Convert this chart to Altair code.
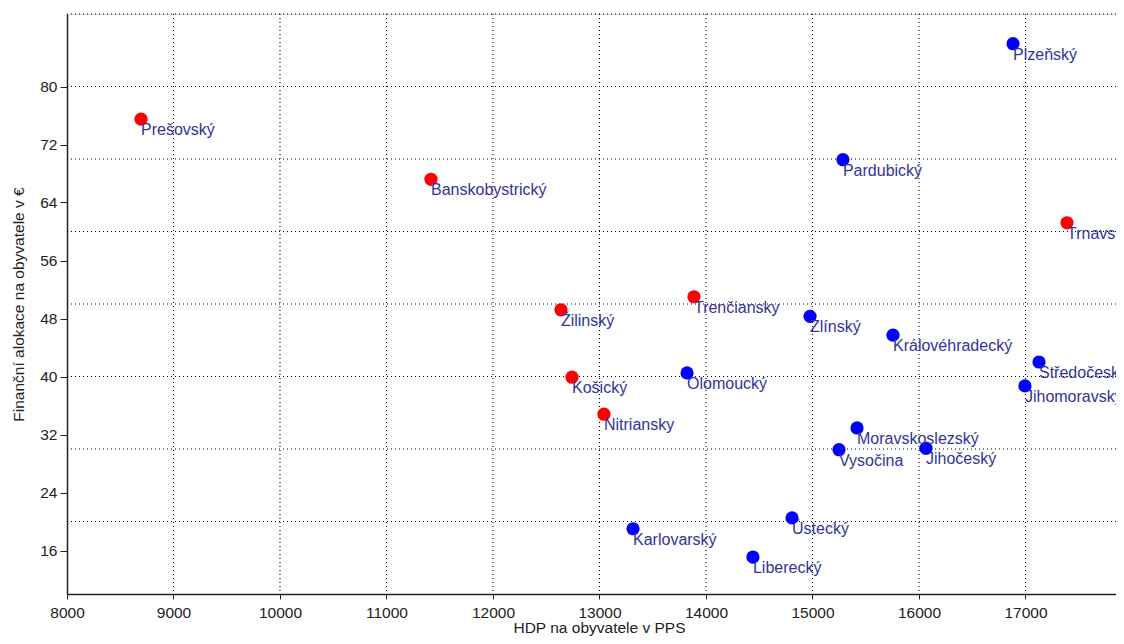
import altair as alt
import pandas as pd

regions = ["Prešovský", "Banskobystrický", "Žilinský", "Trenčiansky", "Košický",
           "Nitriansky", "Trnavský",
           "Olomoucký", "Plzeňský", "Pardubický", "Zlínský", "Královéhradecký",
           "Středočeský", "Jihomoravský", "Moravskoslezský", "Vysočina", "Jihočeský",
           "Karlovarský", "Liberecký", "Ústecký"]
hdp = [8695, 11418, 12638, 13887, 12742, 13042, 17390,
       13822, 16883, 15286, 14977, 15756, 17127, 16995, 15418, 15249, 16066,
       13315, 14441, 14808]
alokace = [75.5, 67.2, 49.2, 51.0, 39.9, 34.8, 61.2,
           40.5, 85.9, 69.9, 48.3, 45.7, 42.0, 38.7, 32.9, 29.9, 30.1,
           19.0, 15.1, 20.5]
country = ["SK"] * 7 + ["CZ"] * 13

x_ticks = [8000, 9000, 10000, 11000, 12000, 13000, 14000, 15000, 16000, 17000]
y_ticks = [16, 24, 32, 40, 48, 56, 64, 72, 80]
x_grid = [9000, 10000, 11000, 12000, 13000, 14000, 15000, 16000, 17000]
y_grid = [20, 30, 40, 50, 60, 70, 80, 90]

df = pd.DataFrame({"region": regions, "hdp": hdp, "alokace": alokace, "country": country})
xg = pd.DataFrame({"hdp": x_grid})
yg = pd.DataFrame({"alokace": y_grid})

FONT = "Liberation Sans, Arial, sans-serif"
xscale = alt.Scale(domain=[8000, 17850], nice=False, zero=False)
yscale = alt.Scale(domain=[10, 90], nice=False, zero=False)

xaxis = alt.Axis(values=x_ticks, grid=False, title="HDP na obyvatele v PPS", format="d",
                 domainColor="#222", domainWidth=1.5, tickColor="#222", tickSize=5,
                 labelFontSize=15.5, labelFont=FONT, labelColor="#222", labelPadding=6,
                 titleFontSize=15.5, titleFont=FONT, titleColor="#222", titleFontWeight="normal",
                 titlePadding=0, titleX=532, labelFlush=False)
yaxis = alt.Axis(values=y_ticks, grid=False, title="Finanční alokace na obyvatele v €", format="d",
                 domainColor="#222", domainWidth=1.5, tickColor="#222", tickSize=7,
                 labelFontSize=15.5, labelFont=FONT, labelColor="#222", labelPadding=3,
                 titleFontSize=15.5, titleFont=FONT, titleColor="#222", titleFontWeight="normal",
                 titlePadding=13, labelFlush=False)

X = alt.X("hdp:Q", scale=xscale, axis=xaxis)
Y = alt.Y("alokace:Q", scale=yscale, axis=yaxis)

vgrid = alt.Chart(xg).mark_rule(color="black", strokeWidth=1.1, strokeDash=[1, 3]).encode(x=X)
hgrid = alt.Chart(yg).mark_rule(color="black", strokeWidth=1.1, strokeDash=[1, 3]).encode(y=Y)

points = alt.Chart(df).mark_circle(size=175, opacity=1).encode(
    x=X, y=Y,
    color=alt.Color("country:N", scale=alt.Scale(domain=["SK", "CZ"], range=["#ff0000", "#0000ff"]),
                    legend=None),
)

labels = alt.Chart(df).mark_text(align="left", baseline="middle", dx=0, dy=11,
                                 fontSize=16, font=FONT, color="#333399", clip=True).encode(
    x=X, y=Y, text="region:N",
)

chart = alt.layer(vgrid, hgrid, points, labels).properties(
    width=1049, height=580,
    autosize=alt.AutoSizeParams(type="none"),
    padding={"left": 59, "top": 6, "right": 0, "bottom": 42},
).configure_view(stroke=None).configure(background="white")

chart.save("out.html", embed_options={"renderer": "svg", "actions": False})
